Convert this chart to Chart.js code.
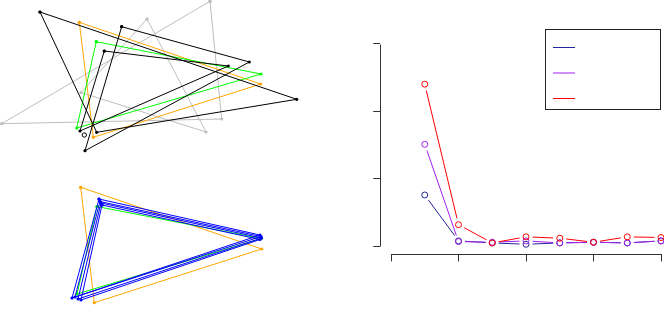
<!DOCTYPE html>
<html lang="en">
<head>
  <meta charset="UTF-8">
  <title>Triangles and curves</title>
  <script src="https://cdn.jsdelivr.net/npm/chart.js"></script>
  <style>
    html, body { margin: 0; padding: 0; background: #fff; overflow: hidden; }
    body { width: 664px; height: 333px; position: relative; }
    .box { position: absolute; }
  </style>
</head>
<body>
  <div class="box" style="left:0;top:0;width:330px;height:166px"><canvas id="topLeft"></canvas></div>
  <div class="box" style="left:0;top:166px;width:330px;height:167px"><canvas id="bottomLeft"></canvas></div>
  <div class="box" style="left:330px;top:0;width:350px;height:333px"><canvas id="rightChart"></canvas></div>

  <script>
    // top left panel: triangles (x, y, y grows downward)
    const grayA_x = [210, 221.7, 1.7];
    const grayA_y = [1.3, 119, 123.7];
    const grayB_x = [147, 206, 81];
    const grayB_y = [19, 132, 92.5];
    const blackA_x = [40, 296.7, 96.7];
    const blackA_y = [12, 99.3, 132.3];
    const blackB_x = [121.7, 249.3, 85];
    const blackB_y = [26.7, 62, 150.7];
    const blackC_x = [104.3, 228.3, 80];
    const blackC_y = [51, 66, 131];
    const orangeTop_x = [79.3, 260.7, 93.3];
    const orangeTop_y = [22.3, 84, 137.3];
    const greenTop_x = [96.3, 261, 76.7];
    const greenTop_y = [41.7, 74, 128];
    const lone_x = [84.3];
    const lone_y = [135];

    // bottom left panel
    const orangeBot_x = [80.7, 261.7, 94.3];
    const orangeBot_y = [187.3, 249, 302.7];
    const greenBot_x = [97, 261.5, 77];
    const greenBot_y = [206.5, 238.5, 294];
    const blue1_x = [99, 260, 72];
    const blue1_y = [199, 235, 298];
    const blue2_x = [100, 261, 75];
    const blue2_y = [201.5, 236.5, 297];
    const blue3_x = [101, 261.5, 78];
    const blue3_y = [203, 238, 299];
    const blue4_x = [102, 260, 81];
    const blue4_y = [205, 239.5, 300];

    // right panel: three series over 8 steps
    const steps = [1, 2, 3, 4, 5, 6, 7, 8];
    const navySeries = [0.76, 0.08, 0.05, 0.03, 0.05, 0.06, 0.05, 0.08];
    const purpleSeries = [1.51, 0.07, 0.06, 0.08, 0.05, 0.06, 0.05, 0.08];
    const redSeries = [2.40, 0.32, 0.05, 0.14, 0.12, 0.06, 0.14, 0.13];
    const legendColors = ['#26269a', '#a020f0', '#ff0000'];

    function tri(xs, ys) {
      const pts = xs.map((x, i) => ({ x: x, y: ys[i] }));
      pts.push(pts[0]);
      return pts;
    }

    function polySet(xs, ys, color) {
      return {
        data: tri(xs, ys),
        showLine: true,
        borderColor: color,
        borderWidth: 1,
        pointRadius: 1.6,
        pointHoverRadius: 1.6,
        pointBorderWidth: 0,
        pointBackgroundColor: color,
        tension: 0,
        clip: false
      };
    }

    function polyChart(id, yMin, yMax, datasets) {
      return new Chart(document.getElementById(id), {
        type: 'scatter',
        data: { datasets: datasets },
        options: {
          responsive: true,
          maintainAspectRatio: false,
          animation: false,
          events: [],
          layout: { padding: 0, autoPadding: false },
          plugins: { legend: { display: false }, tooltip: { enabled: false } },
          scales: {
            x: { display: false, min: 0, max: 330 },
            y: { display: false, min: yMin, max: yMax, reverse: true }
          }
        }
      });
    }

    const gray = '#bebebe';
    polyChart('topLeft', 0, 166, [
      polySet(grayA_x, grayA_y, gray),
      polySet(grayB_x, grayB_y, gray),
      polySet(orangeTop_x, orangeTop_y, '#ffa500'),
      polySet(greenTop_x, greenTop_y, '#00ff00'),
      polySet(blackA_x, blackA_y, '#000'),
      polySet(blackB_x, blackB_y, '#000'),
      polySet(blackC_x, blackC_y, '#000'),
      {
        data: tri(lone_x, lone_y).slice(0, 1),
        pointRadius: 2.2,
        pointBorderWidth: 1,
        pointBorderColor: '#000',
        pointBackgroundColor: 'rgba(0,0,0,0)',
        clip: false
      }
    ].reverse());

    polyChart('bottomLeft', 166, 333, [
      polySet(orangeBot_x, orangeBot_y, '#ffa500'),
      polySet(greenBot_x, greenBot_y, '#00ff00'),
      polySet(blue1_x, blue1_y, '#0000ff'),
      polySet(blue2_x, blue2_y, '#0000ff'),
      polySet(blue3_x, blue3_y, '#0000ff'),
      polySet(blue4_x, blue4_y, '#0000ff')
    ].reverse());

    // R style "b" lines: segments stop short of each point
    const gapLines = {
      id: 'gapLines',
      afterDatasetsDraw(chart) {
        const c = chart.ctx;
        const gap = 6.5;
        chart.data.datasets.forEach((ds, di) => {
          const pts = chart.getDatasetMeta(di).data;
          c.save();
          c.strokeStyle = ds.borderColor;
          c.lineWidth = 1;
          c.beginPath();
          for (let i = 0; i < pts.length - 1; i++) {
            const a = pts[i], b = pts[i + 1];
            const dx = b.x - a.x, dy = b.y - a.y;
            const len = Math.hypot(dx, dy);
            if (len <= 2 * gap) continue;
            const ux = dx / len, uy = dy / len;
            c.moveTo(a.x + ux * gap, a.y + uy * gap);
            c.lineTo(b.x - ux * gap, b.y - uy * gap);
          }
          c.stroke();
          c.restore();
        });
      }
    };

    // axis lines only between the first and last tick, plus the legend box
    const rAxes = {
      id: 'rAxes',
      afterDraw(chart) {
        const c = chart.ctx;
        const xs = chart.scales.x, ys = chart.scales.y;
        const xt = xs.ticks, yt = ys.ticks;
        c.save();
        c.strokeStyle = '#333';
        c.lineWidth = 1;
        const ay = Math.round(ys.getPixelForValue(ys.min)) + 0.5;
        const ax = Math.round(xs.getPixelForValue(xs.min)) + 0.5;
        c.beginPath();
        c.moveTo(Math.round(xs.getPixelForValue(xt[0].value)) + 0.5, ay);
        c.lineTo(Math.round(xs.getPixelForValue(xt[xt.length - 1].value)) + 0.5, ay);
        c.moveTo(ax, Math.round(ys.getPixelForValue(yt[0].value)) + 0.5);
        c.lineTo(ax, Math.round(ys.getPixelForValue(yt[yt.length - 1].value)) + 0.5);
        c.stroke();

        // legend: frame and three line samples, no text
        c.strokeStyle = '#222';
        c.strokeRect(215.5, 29.5, 115, 80);
        const rowY = [47.5, 73, 98.5];
        legendColors.forEach((col, i) => {
          c.strokeStyle = col;
          c.beginPath();
          c.moveTo(223, rowY[i]);
          c.lineTo(245, rowY[i]);
          c.stroke();
        });
        c.restore();
      }
    };

    function seriesSet(values, color, order) {
      return {
        data: values.map((v, i) => ({ x: steps[i], y: v })),
        borderColor: color,
        pointStyle: 'circle',
        pointRadius: 3,
        pointHoverRadius: 3,
        pointBorderWidth: 1,
        pointBorderColor: color,
        pointBackgroundColor: 'rgba(0,0,0,0)',
        showLine: false,
        order: order,
        clip: false
      };
    }

    const tickGrid = {
      display: true,
      drawOnChartArea: false,
      drawTicks: true,
      tickLength: 7,
      color: '#333',
      lineWidth: 1
    };

    new Chart(document.getElementById('rightChart'), {
      type: 'scatter',
      data: {
        datasets: [
          seriesSet(navySeries, legendColors[0], 3),
          seriesSet(purpleSeries, legendColors[1], 2),
          seriesSet(redSeries, legendColors[2], 1)
        ]
      },
      options: {
        responsive: true,
        maintainAspectRatio: false,
        animation: false,
        events: [],
        layout: { padding: { left: 0, top: 35.6, right: 8.2, bottom: 0 }, autoPadding: false },
        plugins: { legend: { display: false }, tooltip: { enabled: false } },
        scales: {
          x: {
            type: 'linear',
            min: -0.32,
            max: 8.32,
            ticks: { display: false, stepSize: 2, includeBounds: false },
            grid: tickGrid,
            border: { display: false },
            afterFit(scale) { scale.height = 78.6; }
          },
          y: {
            min: -0.12,
            max: 3.12,
            ticks: { display: false, stepSize: 1, includeBounds: false },
            grid: tickGrid,
            border: { display: false },
            afterFit(scale) { scale.width = 50.2; }
          }
        }
      },
      plugins: [gapLines, rAxes]
    });
  </script>
</body>
</html>
